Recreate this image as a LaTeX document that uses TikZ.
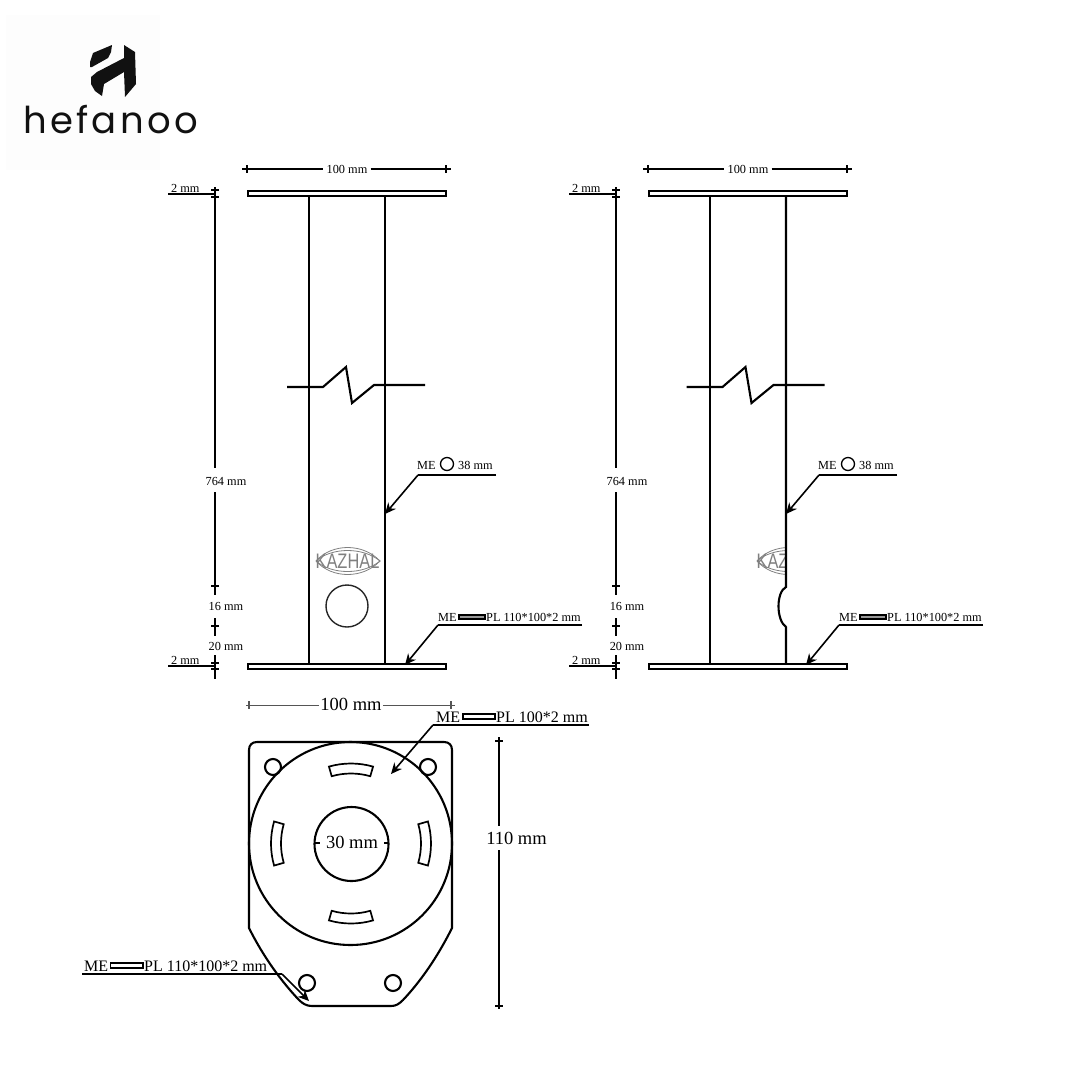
\documentclass[tikz,border=0pt]{standalone}
\usepackage{fontspec}
\setmainfont{Liberation Serif}
\setsansfont{Liberation Sans}
\newfontfamily\brandfont[LetterSpace=9]{Poppins}
\usetikzlibrary{arrows.meta}
\definecolor{brandpale}{HTML}{FDFDFD}
\definecolor{brandink}{HTML}{111111}
\definecolor{kazhalgrey}{HTML}{808080}
\definecolor{dimgrey}{HTML}{555555}
\tikzset{
  part/.style={draw=black, line width=2.1pt},
  dimline/.style={draw=black, line width=1.4pt},
  leader/.style={draw=black, line width=1.6pt, -{Stealth[length=11pt,width=10pt]}},
  small/.style={inner sep=0pt, font=\fontsize{12.3}{12}\selectfont},
  big/.style={inner sep=0pt, font=\fontsize{16}{16}\selectfont},
  huge/.style={inner sep=0pt, font=\fontsize{18.5}{18}\selectfont},
  gapped/.style={fill=white, inner xsep=3pt, inner ysep=2pt},
  kazhal/.style={font=\fontsize{21}{21}\sffamily\selectfont, text=kazhalgrey, inner sep=0pt, xscale=0.78}
}
\begin{document}
\begin{tikzpicture}[x=1pt, y=-1pt]
  \useasboundingbox (0,0) rectangle (1080,1080);

  % Brand mark
  \fill[brandpale] (6,15) rectangle (160,170);
  \fill[brandink] (112,45) -- (111,52) -- (108,58) -- (92,67) -- (90,67) -- (90,62) -- (93,53) -- cycle;
  \fill[brandink] (124,45) -- (135,52) -- (136,84) -- (125,97) -- (124,72) -- (104,84) -- (102,96) -- (95,91)
    -- (91,84) -- (91,77) -- (97,72) -- (124,58) -- cycle;
  \node[inner sep=0pt, anchor=base west, text=brandink, font=\fontsize{37}{37}\brandfont] (brand) at (23,133) {hefanoo};

  % The two side views
  \foreach \ox in {0,401} {
    \begin{scope}[xshift=\ox pt]
      % Plates and tube
      \draw[part] (248,191) rectangle (446,196);
      \draw[part] (248,664) rectangle (446,669);
      \draw[part] (309,196) -- (309,664);

      % Width dimension
      \node[small, gapped] (width\ox) at (347,169.5) {100 mm};
      \coordinate (widthl\ox) at (242,169);
      \coordinate (widthr\ox) at (451,169);
      \draw[dimline] (widthl\ox) -- (widthl\ox -| width\ox.west);
      \draw[dimline] (widthr\ox -| width\ox.east) -- (widthr\ox);
      \draw[dimline] (247,165) -- (247,173);
      \draw[dimline] (446,165) -- (446,173);

      % Height dimension
      \node[small, gapped] (total\ox) at (226,481) {764 mm};
      \node[small, gapped] (hole\ox) at (226,606) {16 mm};
      \node[small, gapped] (base\ox) at (226,646) {20 mm};
      \coordinate (hatop\ox) at (215,187);
      \coordinate (habot\ox) at (215,679);
      \draw[dimline] (hatop\ox) -- (215,468);
      \draw[dimline] (215,492) -- (215,595);
      \draw[dimline] (215,618) -- (215,636);
      \draw[dimline] (215,655) -- (habot\ox);
      \foreach \ty in {190,197,586,626,663,669}
        \draw[dimline] (211,\ty) -- (219,\ty);

      % Plate thickness labels
      \node[small, anchor=south west] (thktop\ox) at (171,192.5) {2 mm};
      \node[small, anchor=south west] (thkbot\ox) at (171,664.5) {2 mm};
      \draw[dimline] (168,194) -- (215,194);
      \draw[dimline] (168,666) -- (215,666);

      % Tube leader
      \node[small, anchor=west] (metube\ox) at (417,465.5) {ME};
      \node[small, anchor=west] (sizetube\ox) at (458,465.5) {38 mm};
      \draw[line width=1.3pt] (447,464) circle (6.5);
      \coordinate (elbtube\ox) at (418,475);
      \coordinate (tiptube\ox) at (385,514);
      \draw[dimline] (496,475) -- (elbtube\ox);
      \draw[leader] (elbtube\ox) -- (tiptube\ox);

      % Plate leader
      \node[small, anchor=west] (meplate\ox) at (438,617.5) {ME};
      \draw[line width=1.1pt, fill=black!40] (459,615) rectangle (485,619);
      \node[small, anchor=west] (sizeplate\ox) at (486,617.5) {PL 110*100*2 mm};
      \coordinate (elbplate\ox) at (438,625);
      \coordinate (tipplate\ox) at (405,665);
      \draw[dimline] (582,625) -- (elbplate\ox);
      \draw[leader] (elbplate\ox) -- (tipplate\ox);
    \end{scope}
  }

  % Break lines
  \foreach \bx in {0,399.5} {
    \draw[part, xshift=\bx pt] (287,387) -- (323,387) -- (346,367) -- (352,403) -- (374,385) -- (425,385);
  }

  % Left view: tube edge, logo and hole
  \draw[part] (385,196) -- (385,664);
  \foreach \d in {18,14}
    \draw[kazhalgrey, line width=0.8pt] (316,561) .. controls (332,561-\d) and (363,561-\d) .. (380,561)
      .. controls (363,561+\d) and (332,561+\d) .. (316,561);
  \node[kazhal] (logoleft) at (347.5,561) {KAZHAL};
  \draw[line width=1.4pt, black!85] (347,606) circle (21);

  % Right view: tube edge with notch, clipped logo
  \begin{scope}
    \clip (740,540) rectangle (786,580);
    \foreach \d in {18,14}
      \draw[kazhalgrey, line width=0.8pt] (757,561) .. controls (773,561-\d) and (804,561-\d) .. (821,561)
        .. controls (804,561+\d) and (773,561+\d) .. (757,561);
    \node[kazhal] (logoright) at (788.5,561) {KAZHAL};
  \end{scope}
  \draw[part] (786,196) -- (786,587) .. controls (776,592) and (776,620) .. (786,627) -- (786,664);

  % Plan view outline
  \draw[part] (257,742) -- (444,742) .. controls (449,742) and (452,745) .. (452,750)
    -- (452,928) .. controls (437,958) and (420,982) .. (403,1000)
    .. controls (399,1004) and (396,1006) .. (391,1006) -- (312,1006)
    .. controls (307,1006) and (303,1004) .. (299,1000)
    .. controls (282,982) and (264,958) .. (249,928) -- (249,750)
    .. controls (249,745) and (252,742) .. (257,742) -- cycle;
  \draw[part] (350.5,843.5) circle (101.5);
  \draw[part] (351.5,844) circle (37);

  % Holes and slots
  \foreach \hx/\hy in {273/767,428/767}
    \draw[part] (\hx,\hy) circle (8);
  \foreach \hx/\hy in {307/983,393/983}
    \draw[part] (\hx,\hy) circle (8);
  \foreach \a in {0,90,180,270}
    \draw[part, line width=1.7pt] ({351+70*cos(\a-16)},{843.5-70*sin(\a-16)})
      arc[start angle=\a-16, end angle=\a+16, radius=70, y radius=-70]
      -- ({351+80*cos(\a+16)},{843.5-80*sin(\a+16)})
      arc[start angle=\a+16, end angle=\a-16, radius=80, y radius=-80] -- cycle;

  % Plan view dimensions
  \node[huge, gapped, inner xsep=1pt] (planwidth) at (351,704) {100 mm};
  \coordinate (planl) at (246,705);
  \coordinate (planr) at (455,705);
  \draw[dimgrey, line width=1pt] (planl) -- (planl -| planwidth.west);
  \draw[dimgrey, line width=1pt] (planr -| planwidth.east) -- (planr);
  \draw[dimgrey, line width=1.1pt] (249,701) -- (249,709);
  \draw[dimgrey, line width=1.1pt] (451,701) -- (451,709);

  \node[huge, gapped, inner xsep=0pt] (planheight) at (516.5,838) {110 mm};
  \coordinate (hgtop) at (499,737);
  \coordinate (hgbot) at (499,1009);
  \draw[dimline] (hgtop) -- (499,826);
  \draw[dimline] (499,850) -- (hgbot);
  \draw[dimline] (495,741) -- (503,741);
  \draw[dimline] (495,1006) -- (503,1006);

  \node[huge, fill=white, inner xsep=1pt] (bore) at (352,842) {30 mm};
  \draw[dimline] (314,843) -- (320,843);
  \draw[dimline] (384,843) -- (389,843);

  % Plan view leaders
  \node[big, anchor=west] (medisc) at (436,717) {ME};
  \draw[line width=1.1pt] (463,714) rectangle (495,719);
  \node[big, anchor=west] (sizedisc) at (496,717) {PL 100*2 mm};
  \coordinate (elbdisc) at (433,725);
  \coordinate (tipdisc) at (391,774);
  \draw[dimline] (589,725) -- (elbdisc);
  \draw[leader] (elbdisc) -- (tipdisc);

  \node[big, anchor=west] (mebase) at (84,966) {ME};
  \draw[line width=1.1pt] (110.5,963) rectangle (143,968);
  \node[big, anchor=west] (sizebase) at (144,966) {PL 110*100*2 mm};
  \coordinate (elbbase) at (282,974);
  \coordinate (tipbase) at (309,1001);
  \draw[dimline] (82,974) -- (elbbase);
  \draw[leader] (elbbase) -- (tipbase);
\end{tikzpicture}
\end{document}
